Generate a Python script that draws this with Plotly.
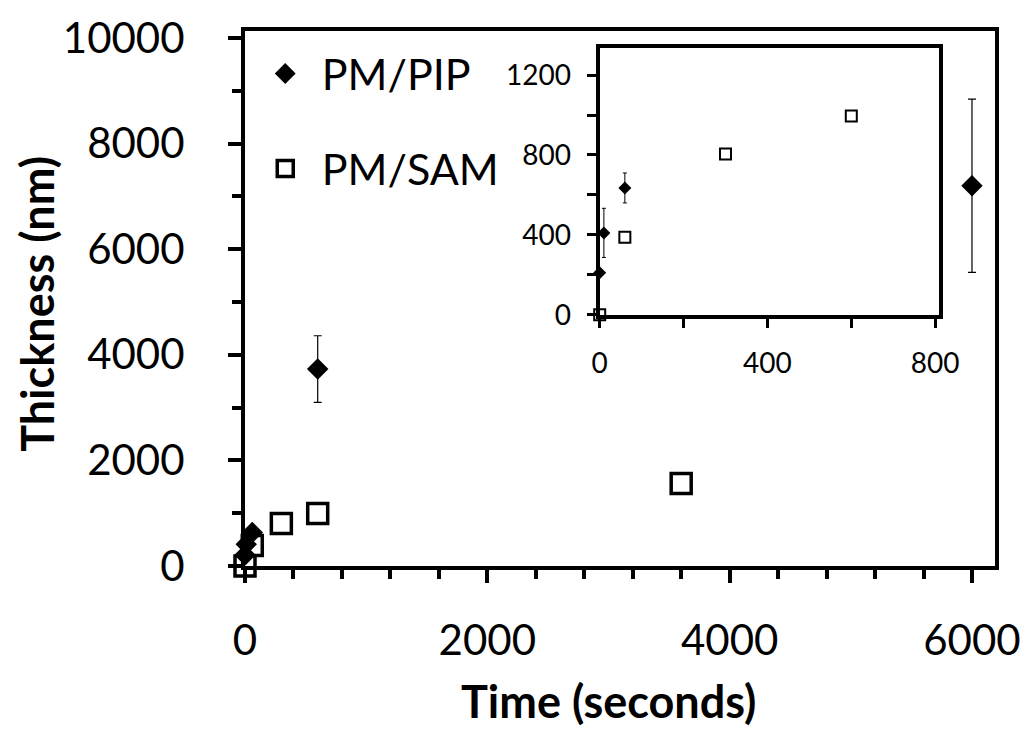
import plotly.graph_objects as go

# ---------------- data ----------------
series_names = ["PM/PIP", "PM/SAM"]
time_pip = [0, 10, 60, 600, 6000]
thick_pip = [210, 410, 635, 3730, 7200]
err_pip = [0, 123, 75, 630, 1640]

time_sam = [0, 60, 300, 600, 3600]
thick_sam = [0, 388, 805, 995, 1560]

main_xticks = [0, 2000, 4000, 6000]
main_yticks = [0, 2000, 4000, 6000, 8000, 10000]
inset_xticks = [0, 400, 800]
inset_yticks = [0, 400, 800, 1200]

x_title = "Time (seconds)"
y_title = "Thickness (nm)"

# ---------------- layout constants ----------------
W, H = 1032, 740
ML, MR, MT, MB = 245, 30, 23, 174
main_xrange = [0, 6190]
main_yrange = [0, 10131]
inset_xrange = [0, 808]
inset_yrange = [0, 1337]
FONT = "Lato, Carlito, Calibri, sans-serif"


def in_inset(ts, vs, es=None):
    keep = [i for i, (t, v) in enumerate(zip(ts, vs))
            if inset_xrange[0] <= t <= inset_xrange[1] and inset_yrange[0] <= v <= inset_yrange[1]]
    out = ([ts[i] for i in keep], [vs[i] for i in keep])
    if es is not None:
        out = out + ([es[i] for i in keep],)
    return out


fig = go.Figure()

# main chart
fig.add_trace(go.Scatter(
    x=time_pip, y=thick_pip, mode="markers", name=series_names[0],
    legendgroup="a",
    marker=dict(symbol="diamond", size=16.5, color="black", line=dict(width=0)),
    error_y=dict(type="data", array=err_pip, visible=True, color="black", thickness=1.2, width=4),
    cliponaxis=False, xaxis="x", yaxis="y",
))
fig.add_trace(go.Scatter(
    x=time_sam, y=thick_sam, mode="markers", name=series_names[1],
    legendgroup="b",
    marker=dict(symbol="square-open", size=20, color="black", line=dict(width=3.5, color="black")),
    cliponaxis=False, xaxis="x", yaxis="y",
))

# inset (zoom on early times)
ipx, ipy, ipe = in_inset(time_pip, thick_pip, err_pip)
isx, isy = in_inset(time_sam, thick_sam)
fig.add_trace(go.Scatter(
    x=ipx, y=ipy, mode="markers", showlegend=False,
    marker=dict(symbol="diamond", size=10, color="black", line=dict(width=0)),
    error_y=dict(type="data", array=ipe, visible=True, color="black", thickness=1, width=2),
    cliponaxis=False, xaxis="x2", yaxis="y2",
))
fig.add_trace(go.Scatter(
    x=isx, y=isy, mode="markers", showlegend=False,
    marker=dict(symbol="square-open", size=11, color="black", line=dict(width=2, color="black")),
    cliponaxis=False, xaxis="x2", yaxis="y2",
))

pw = W - ML - MR
ph = H - MT - MB
inset_l, inset_r, inset_t, inset_b = 603, 945, 40, 311
dx = [(inset_l - ML) / pw, (inset_r - ML) / pw]
dy = [(H - MB - inset_b) / ph, (H - MB - inset_t) / ph]

axis_common = dict(showgrid=False, zeroline=False, showline=True, linecolor="black",
                   mirror=True, ticks="outside", tickcolor="black", tickformat="d")


def px_x(p):
    return (p - ML) / pw


def px_y(p):
    return (H - MB - p) / ph


fig.update_layout(
    width=W, height=H,
    margin=dict(l=ML, r=MR, t=MT, b=MB, pad=0),
    paper_bgcolor="white", plot_bgcolor="white",
    font=dict(family=FONT, color="black", size=42),
    showlegend=True,
    legend=dict(x=0.005, y=0.985, xanchor="left", yanchor="top",
                font=dict(size=43, family=FONT, color="black"),
                bgcolor="rgba(0,0,0,0)", tracegroupgap=36, itemwidth=63),
    xaxis=dict(**axis_common, range=main_xrange, tickvals=main_xticks, linewidth=4,
               ticklen=13, tickwidth=4, tickfont=dict(size=42),
               ticklabelstandoff=22,
               minor=dict(dtick=400, ticklen=9, tickwidth=4, tickcolor="black", ticks="outside")),
    yaxis=dict(**axis_common, range=main_yrange, tickvals=main_yticks, linewidth=4,
               ticklen=13, tickwidth=4, tickfont=dict(size=42),
               ticklabelstandoff=35,
               minor=dict(dtick=1000, ticklen=9, tickwidth=4, tickcolor="black", ticks="outside")),
    xaxis2=dict(**axis_common, domain=dx, anchor="y2", range=inset_xrange, tickvals=inset_xticks,
                linewidth=4, ticklen=9, tickwidth=2.5, tickfont=dict(size=28),
                ticklabelstandoff=12,
                minor=dict(dtick=200, ticklen=9, tickwidth=2.5, tickcolor="black", ticks="outside")),
    yaxis2=dict(**axis_common, domain=dy, anchor="x2", range=inset_yrange, tickvals=inset_yticks,
                linewidth=4, ticklen=9, tickwidth=2.5, tickfont=dict(size=28),
                ticklabelstandoff=10,
                minor=dict(dtick=200, ticklen=9, tickwidth=2.5, tickcolor="black", ticks="outside")),
    annotations=[
        dict(text=f"<b>{x_title}</b>", xref="paper", yref="paper",
             x=px_x(612), y=px_y(703), xanchor="center", yanchor="middle",
             showarrow=False, font=dict(size=45, family=FONT, color="black")),
        dict(text=f"<b>{y_title}</b>", xref="paper", yref="paper",
             x=px_x(35), y=px_y(300), xanchor="center", yanchor="middle",
             textangle=-90, showarrow=False, font=dict(size=45, family=FONT, color="black")),
    ],
)

fig.write_html("out.html")
